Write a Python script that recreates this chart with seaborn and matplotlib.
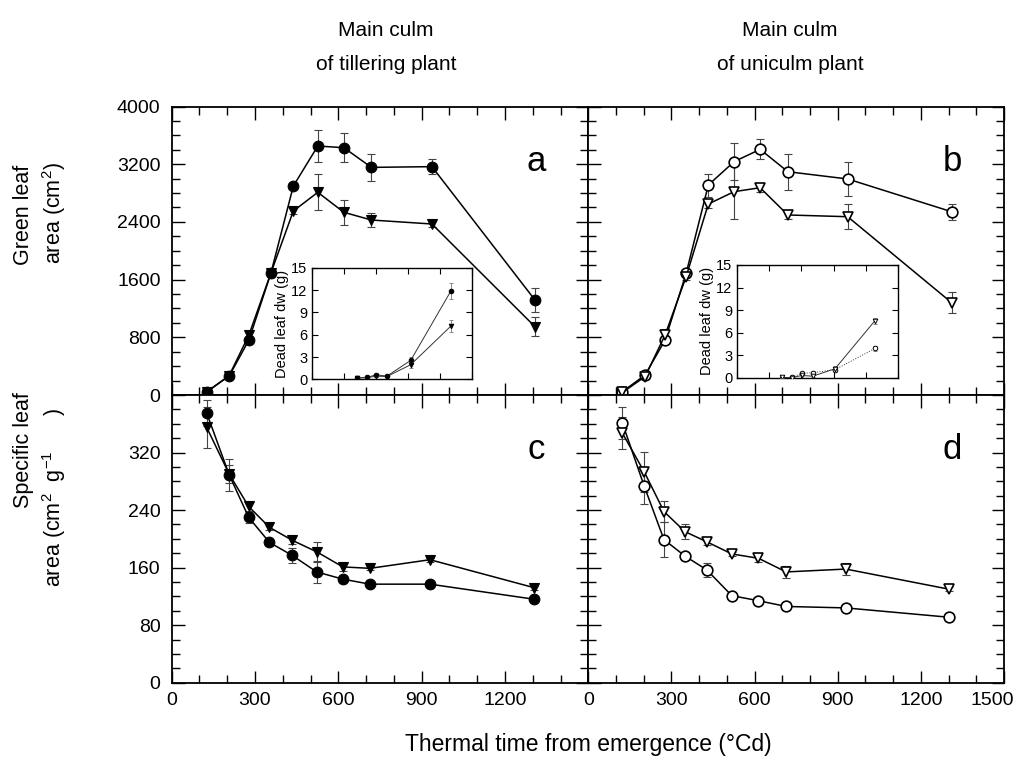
import matplotlib
matplotlib.use("Agg")
import matplotlib.pyplot as plt
import numpy as np
import pandas as pd
import seaborn as sns
from matplotlib.ticker import MultipleLocator, FixedLocator
from matplotlib.transforms import ScaledTranslation

sns.set_style("ticks")
plt.rcParams['font.family'] = ['Liberation Sans', 'DejaVu Sans']
plt.rcParams['mathtext.default'] = 'regular'
plt.rcParams['text.color'] = 'black'
plt.rcParams['axes.labelcolor'] = 'black'
plt.rcParams['xtick.color'] = 'black'
plt.rcParams['ytick.color'] = 'black'

# ---------------- data ----------------
tt_a = [126, 207, 278, 357, 438, 526, 620, 719, 937, 1308]
gla_a_circ = [46, 263, 762, 1687, 2898, 3452, 3429, 3156, 3166, 1317]
gla_a_circ_se = [20, 30, 40, 50, 40, 220, 200, 190, 100, 160]
gla_a_tri = [40, 270, 832, 1690, 2551, 2810, 2533, 2426, 2371, 947]
gla_a_tri_se = [20, 30, 60, 50, 40, 250, 170, 100, 40, 130]

tt_b = [123, 205, 277, 353, 433, 526, 620, 720, 936, 1311]
gla_b_circ = [46, 277, 762, 1687, 2911, 3235, 3406, 3096, 2995, 2541]
gla_b_circ_se = [20, 30, 40, 50, 160, 260, 140, 250, 240, 110]
gla_b_tri = [35, 255, 832, 1640, 2648, 2819, 2874, 2496, 2472, 1280]
gla_b_tri_se = [20, 30, 80, 50, 60, 380, 60, 60, 170, 150]

tt_c = [126, 207, 277, 352, 434, 522, 616, 714, 930, 1306]
sla_c_circ = [375, 289, 230, 195, 177, 154, 144, 137, 137, 116]
sla_c_circ_se = [18, 22, 8, 5, 10, 15, 4, 3, 3, 3]
sla_c_tri = [355, 290, 245, 216, 198, 182, 161, 159, 171, 132]
sla_c_tri_se = [28, 12, 6, 4, 5, 14, 6, 3, 3, 3]

tt_d = [123, 202, 273, 349, 427, 518, 614, 714, 929, 1302]
sla_d_circ = [361, 273, 199, 176, 157, 121, 114, 106, 104, 91]
sla_d_circ_se = [22, 25, 24, 4, 10, 3, 3, 3, 3, 3]
sla_d_tri = [347, 293, 238, 210, 196, 179, 173, 154, 158, 130]
sla_d_tri_se = [22, 28, 14, 10, 5, 3, 5, 8, 8, 3]

tt_ins_a = [425, 515, 605, 705, 928, 1306]
dead_a_circ = [0.23, 0.27, 0.63, 0.45, 2.56, 11.9]
dead_a_circ_se = [0.1, 0.1, 0.1, 0.1, 0.5, 1.1]
dead_a_tri = [0.2, 0.25, 0.45, 0.4, 1.98, 7.18]
dead_a_tri_se = [0.1, 0.1, 0.1, 0.1, 0.4, 0.8]

tt_ins_b = [418, 511, 604, 706, 913, 1284]
dead_b_circ = [0.0, 0.05, 0.58, 0.67, 1.07, 3.9]
dead_b_circ_se = [0.1, 0.1, 0.2, 0.2, 0.3, 0.3]
dead_b_tri = [0.05, 0.0, 0.3, 0.2, 1.2, 7.6]
dead_b_tri_se = [0.1, 0.1, 0.1, 0.1, 0.3, 0.4]

x_major = [0, 300, 600, 900, 1200, 1500]
panel_letters = ["a", "b", "c", "d"]
col_titles = [("Main culm", "of tillering plant"), ("Main culm", "of uniculm plant")]
ylab_top = ("Green leaf", "area (cm$^{2}$)")
ylab_bot = ("Specific leaf", "area (cm$^{2}$  g$^{-1}$      )")
xlab = "Thermal time from emergence (\u00b0Cd)"

# ---------------- figure ----------------
W, H = 1016, 763
fig = plt.figure(figsize=(W / 100, H / 100), dpi=100)

def fax(x0, y0, x1, y1):
    return fig.add_axes([x0 / W, 1 - y1 / H, (x1 - x0) / W, (y1 - y0) / H])

axA = fax(171.7, 106.5, 588.3, 395.0)
axB = fax(588.3, 106.5, 1004.0, 395.0)
axC = fax(171.7, 395.0, 588.3, 682.7)
axD = fax(588.3, 395.0, 1004.0, 682.7)

ERR = "#444444"

def draw(ax, x, yc, sc, yt, st, filled, ms_c=7.7, ms_t=7.6, lw=1.1, elw=0.8, cap=3):
    fc = "black" if filled else "white"
    for y, s, m, ms in [(yc, sc, "o", ms_c), (yt, st, "v", ms_t)]:
        ax.errorbar(x, y, yerr=s, fmt="none", ecolor=ERR, elinewidth=elw,
                    capsize=cap, capthick=elw, zorder=2)
        sns.lineplot(x=x, y=y, ax=ax, color="black", lw=lw, marker=m,
                     markersize=ms, markerfacecolor=fc, markeredgecolor="black",
                     markeredgewidth=1.2 if not filled else 0.8, sort=False, zorder=3)

draw(axA, tt_a, gla_a_circ, gla_a_circ_se, gla_a_tri, gla_a_tri_se, True)
draw(axB, tt_b, gla_b_circ, gla_b_circ_se, gla_b_tri, gla_b_tri_se, False)
draw(axC, tt_c, sla_c_circ, sla_c_circ_se, sla_c_tri, sla_c_tri_se, True)
draw(axD, tt_d, sla_d_circ, sla_d_circ_se, sla_d_tri, sla_d_tri_se, False)

def style(ax, ymax, ymaj, ymin, xlabels, ylabels, ylabel_max):
    ax.set_xlim(0, 1500)
    ax.set_ylim(0, ymax)
    ax.xaxis.set_major_locator(FixedLocator(x_major))
    ax.xaxis.set_minor_locator(MultipleLocator(100))
    ax.yaxis.set_major_locator(MultipleLocator(ymaj))
    ax.yaxis.set_minor_locator(MultipleLocator(ymin))
    ax.tick_params(which="both", direction="in", top=True, right=True, width=1.0,
                   labelsize=14, colors="black")
    ax.tick_params(which="major", length=9, pad=8)
    ax.tick_params(which="minor", length=5.5)
    if xlabels is None:
        ax.set_xticklabels([])
    else:
        ax.set_xticklabels(xlabels)
    if ylabels:
        ticks = np.arange(0, ymax + 1, ymaj)
        ax.set_yticks(ticks)
        ax.set_yticklabels([str(int(t)) if t <= ylabel_max else "" for t in ticks])
    else:
        ax.set_yticklabels([])
    ax.set_xlabel("")
    ax.set_ylabel("")
    for sp in ax.spines.values():
        sp.set_linewidth(1.3)
        sp.set_color("black")

style(axA, 4000, 800, 200, None, True, 4000)
style(axB, 4000, 800, 200, None, False, 0)
style(axC, 400, 80, 20, ["0", "300", "600", "900", "1200", ""], True, 320)
style(axD, 400, 80, 20, ["0", "300", "600", "900", "1200", "1500"], False, 0)
axC.tick_params(axis="x", pad=7)
axD.tick_params(axis="x", pad=7)
# last label sits slightly left of its tick, as in the reference
lab = axD.get_xticklabels()[-1]
lab.set_transform(lab.get_transform() + ScaledTranslation(-0.12, 0, fig.dpi_scale_trans))

for ax, letter in zip([axA, axB, axC, axD], panel_letters):
    ax.text(0.875, 0.81, letter, transform=ax.transAxes, fontsize=25,
            ha="center", va="center")

# ---------------- insets ----------------
insA = fax(311.7, 267.7, 471.7, 379.5)
insB = fax(736.7, 265.0, 898.3, 377.7)

def inset(ax, x, yc, sc, yt, st, filled, ls_c, ls_t):
    fc = "black" if filled else "white"
    for y, s, m, ls in [(yc, sc, "o", ls_c), (yt, st, "v", ls_t)]:
        ax.errorbar(x, y, yerr=s, fmt="none", ecolor="#777777", elinewidth=0.6,
                    capsize=1.5, capthick=0.6, zorder=2)
        sns.lineplot(x=x, y=y, ax=ax, color="#333333", lw=0.7, linestyle=ls, marker=m,
                     markersize=3.3, markerfacecolor=fc, markeredgecolor="black",
                     markeredgewidth=0.7, sort=False, zorder=3)
    ax.set_xlim(0, 1500)
    ax.set_ylim(0, 15)
    ax.xaxis.set_major_locator(MultipleLocator(300))
    ax.yaxis.set_major_locator(MultipleLocator(3))
    ax.tick_params(which="both", direction="in", top=True, right=True, length=4,
                   width=0.8, labelsize=10.5, pad=3, colors="black")
    ax.set_xticklabels([])
    ax.set_xlabel("")
    ax.set_ylabel("Dead leaf dw (g)", fontsize=10.5, labelpad=2)
    for sp in ax.spines.values():
        sp.set_linewidth(1.0)
        sp.set_color("black")

inset(insA, tt_ins_a, dead_a_circ, dead_a_circ_se, dead_a_tri, dead_a_tri_se, True, "-", "-")
inset(insB, tt_ins_b, dead_b_circ, dead_b_circ_se, dead_b_tri, dead_b_tri_se, False, ":", "-")

# ---------------- labels ----------------
for (l1, l2), xc in zip(col_titles, [386, 790]):
    fig.text(xc / W, 1 - 30 / H, l1, fontsize=15, ha="center", va="center")
    fig.text(xc / W, 1 - 65 / H, l2, fontsize=15, ha="center", va="center")

# y labels: two rotated lines each
fig.text(24 / W, 1 - 215 / H, ylab_top[0], fontsize=15.5, rotation=90, ha="center", va="center")
fig.text(54 / W, 1 - 213 / H, ylab_top[1], fontsize=15.5, rotation=90, ha="center", va="center")
fig.text(24 / W, 1 - 450 / H, ylab_bot[0], fontsize=15.5, rotation=90, ha="center", va="center")
fig.text(54 / W, 1 - 497 / H, ylab_bot[1], fontsize=15.5, rotation=90, ha="center", va="center")

fig.text(588 / W, 1 - 745 / H, xlab, fontsize=16.5, ha="center", va="center")

fig.savefig("out.png", dpi=100)
